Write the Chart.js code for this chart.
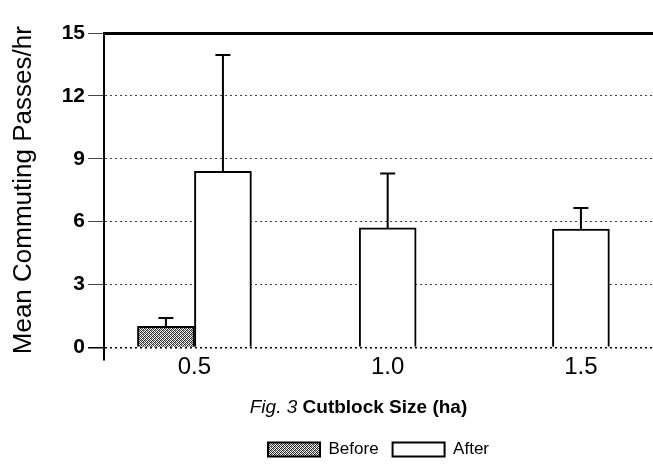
<!DOCTYPE html>
<html>
<head>
<meta charset="utf-8">
<script src="https://cdn.jsdelivr.net/npm/chart.js@4/dist/chart.umd.min.js"></script>
<style>
  html, body { margin: 0; padding: 0; background: #fff; }
  #wrap { width: 653px; height: 472px; }
</style>
</head>
<body>
<div id="wrap"><canvas id="grafico"></canvas></div>
<script>
// data
const sizes = [0.5, 1.0, 1.5];
const beforeMeans = [1.0, null, null];
const beforeErr = [0.4, null, null];
const afterMeans = [8.4, 5.7, 5.65];
const afterErr = [5.55, 2.6, 1.0];
const yTicks = [0, 3, 6, 9, 12, 15];
const seriesNames = ["Before", "After"];

const narrow = "'Liberation Sans Narrow', 'Arial Narrow', 'Liberation Sans', sans-serif";

// stippled grey fill like the print
function hatch() {
  const c = document.createElement('canvas');
  c.width = 4; c.height = 4;
  const g = c.getContext('2d');
  g.fillStyle = '#fff';
  g.fillRect(0, 0, 4, 4);
  const dots = [[0,0,'#222'],[2,0,'#555'],[1,1,'#333'],[3,1,'#222'],[0,2,'#555'],[2,2,'#222'],[1,3,'#222'],[3,3,'#444'],[1,0,'#aaa'],[3,2,'#999']];
  for (const d of dots) { g.fillStyle = d[2]; g.fillRect(d[0], d[1], 1, 1); }
  return g.createPattern(c, 'repeat');
}

const errores = {
  id: 'errores',
  afterDatasetsDraw(chart) {
    const ctx = chart.ctx;
    const y = chart.scales.y;
    const errs = [beforeErr, afterErr];
    ctx.save();
    ctx.strokeStyle = '#000';
    ctx.lineWidth = 2;
    errs.forEach((e, di) => {
      const meta = chart.getDatasetMeta(di);
      meta.data.forEach((bar, i) => {
        const m = chart.data.datasets[di].data[i];
        if (m == null || e[i] == null) return;
        const top = y.getPixelForValue(m + e[i]);
        ctx.beginPath();
        ctx.moveTo(bar.x, bar.y);
        ctx.lineTo(bar.x, top);
        ctx.moveTo(bar.x - 7.5, top);
        ctx.lineTo(bar.x + 7.5, top);
        ctx.stroke();
      });
    });
    // axis stub below zero
    const a = chart.chartArea;
    ctx.beginPath();
    ctx.moveTo(a.left, a.bottom);
    ctx.lineTo(a.left, a.bottom + 13);
    ctx.stroke();
    ctx.restore();
  },
  afterDraw(chart) {
    // x title with italic "Fig. 3" and bold rest
    const xs = chart.scales.x;
    const ctx = chart.ctx;
    const p1 = 'Fig. 3 ', p2 = 'Cutblock Size (ha)';
    ctx.save();
    ctx.fillStyle = '#000';
    ctx.textBaseline = 'middle';
    ctx.font = 'italic 19px ' + narrow;
    const w1 = ctx.measureText(p1).width;
    ctx.font = 'bold 19px ' + narrow;
    const w2 = ctx.measureText(p2).width;
    const cx = (xs.left + xs.right) / 2 - 20;
    const cy = xs.bottom - 8 - 11;
    let x0 = cx - (w1 + w2) / 2;
    ctx.font = 'italic 19px ' + narrow;
    ctx.fillText(p1, x0, cy);
    ctx.font = 'bold 19px ' + narrow;
    ctx.fillText(p2, x0 + w1, cy);
    ctx.restore();
  }
};

new Chart(document.getElementById('grafico'), {
  type: 'bar',
  data: {
    labels: sizes,
    datasets: [{
      label: seriesNames[0],
      data: beforeMeans,
      backgroundColor: hatch(),
      borderColor: '#000',
      borderWidth: 2,
      borderSkipped: 'bottom'
    }, {
      label: seriesNames[1],
      data: afterMeans,
      backgroundColor: '#fff',
      borderColor: '#000',
      borderWidth: 2,
      borderSkipped: 'bottom'
    }]
  },
  options: {
    responsive: true,
    maintainAspectRatio: false,
    animation: false,
    skipNull: true,
    barThickness: 57,
    layout: { padding: { top: 33, right: 0, left: 0, bottom: 4 } },
    plugins: {
      tooltip: { enabled: false },
      legend: {
        position: 'bottom',
        fullSize: false,
        labels: {
          color: '#000',
          font: { family: narrow, size: 17 },
          boxWidth: 52,
          boxHeight: 14,
          padding: 14
        }
      }
    },
    scales: {
      x: {
        type: 'linear',
        offset: false,
        min: 0.266,
        max: 1.6865,
        grid: { display: false, drawTicks: false, offset: false },
        border: { display: false },
        afterBuildTicks: s => { s.ticks = sizes.map(v => ({ value: v })); },
        ticks: {
          color: '#000',
          padding: 6,
          font: { family: narrow, size: 24 },
          callback: v => Number(v).toFixed(1)
        },
        title: {
          display: true,
          text: 'Fig. 3 Cutblock Size (ha)',
          color: 'rgba(0,0,0,0)',
          font: { family: narrow, size: 19, weight: 'bold' },
          padding: { top: 8, bottom: 8 }
        }
      },
      xTop: {
        type: 'linear',
        position: 'top',
        ticks: { display: false },
        grid: { display: false, drawTicks: false },
        border: { display: true, color: '#000', width: 3 }
      },
      y: {
        min: 0,
        max: 15,
        afterBuildTicks: s => { s.ticks = yTicks.map(v => ({ value: v })); },
        afterFit: s => { s.width = 104; },
        grid: {
          color: c => c.tick && c.tick.value === 0 ? '#000' : '#444',
          lineWidth: c => c.tick && c.tick.value === 0 ? 1.5 : 1,
          tickLength: 16
        },
        border: { display: true, color: '#000', width: 2, dash: [2, 3] },
        ticks: {
          color: '#000',
          padding: 3,
          font: { family: narrow, size: 21, weight: 'bold' }
        },
        title: {
          display: true,
          text: 'Mean Commuting Passes/hr',
          color: '#000',
          font: { family: narrow, size: 26 },
          padding: { top: 8, bottom: 0 }
        }
      }
    }
  },
  plugins: [errores]
});
</script>
</body>
</html>
